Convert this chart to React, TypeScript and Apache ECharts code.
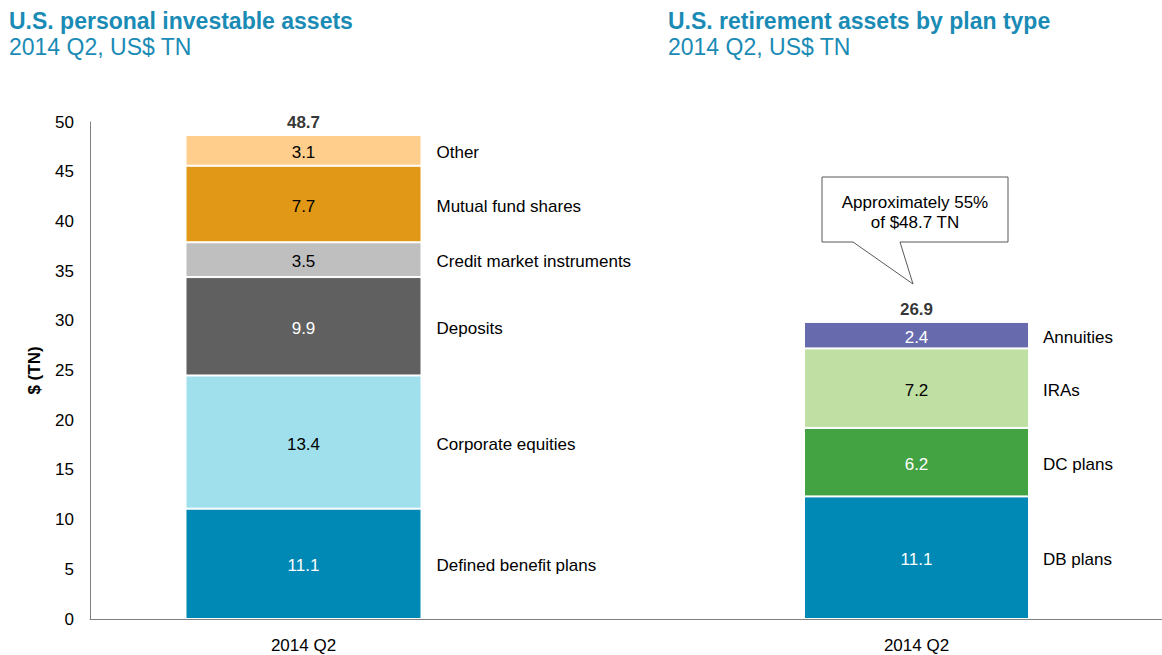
import React, { useEffect, useRef } from "react";
import * as echarts from "echarts";

const categoryLabels = ["2014 Q2"];

const leftNames = [
  "Defined benefit plans",
  "Corporate equities",
  "Deposits",
  "Credit market instruments",
  "Mutual fund shares",
  "Other",
];
const leftValues = [11.1, 13.4, 9.9, 3.5, 7.7, 3.1];
const leftColors = ["#0089B4", "#9FE0EC", "#606060", "#BFBFBF", "#E19816", "#FFCD8C"];
const leftValueColors = ["#ffffff", "#000000", "#ffffff", "#000000", "#000000", "#000000"];

const rightNames = ["DB plans", "DC plans", "IRAs", "Annuities"];
const rightValues = [11.1, 6.2, 7.2, 2.4];
const rightColors = ["#0089B4", "#43A342", "#BFDFA3", "#676AAD"];
const rightValueColors = ["#ffffff", "#ffffff", "#000000", "#ffffff"];

const leftTicks = { min: 0, max: 50, interval: 5 };
const rightScaleMax = 45;

const FONT = "'Liberation Sans', Arial, sans-serif";
const TITLE_COLOR = "#1A8BB5";

function buildStack(
  names: string[],
  values: number[],
  colors: string[],
  valueColors: string[],
  axisIndex: number,
  barWidth: number,
  nameDistance: number
) {
  const out: any[] = [];
  names.forEach((n, i) => {
    out.push({
      type: "bar",
      name: n,
      xAxisIndex: axisIndex,
      yAxisIndex: axisIndex,
      stack: "s" + axisIndex,
      barWidth,
      barGap: "-100%",
      data: [values[i]],
      itemStyle: { color: colors[i], borderColor: "#ffffff", borderWidth: 1 },
      label: {
        show: true,
        position: "right",
        distance: nameDistance,
        offset: [0, 2],
        formatter: n,
        color: "#000",
        fontSize: 17,
        fontFamily: FONT,
      },
    });
  });
  names.forEach((n, i) => {
    out.push({
      type: "bar",
      name: n + " value",
      xAxisIndex: axisIndex,
      yAxisIndex: axisIndex,
      stack: "v" + axisIndex,
      barWidth,
      barGap: "-100%",
      silent: true,
      data: [values[i]],
      itemStyle: { color: "rgba(0,0,0,0)", borderWidth: 0 },
      label: {
        show: true,
        position: "inside",
        offset: [0, 2],
        formatter: values[i].toFixed(1),
        color: valueColors[i],
        fontSize: 17,
        fontFamily: FONT,
      },
    });
  });
  const total = values.reduce((a, b) => a + b, 0);
  out.push({
    type: "scatter",
    xAxisIndex: axisIndex,
    yAxisIndex: axisIndex,
    symbolSize: 1,
    silent: true,
    data: [[0, total]],
    itemStyle: { color: "rgba(0,0,0,0)" },
    label: {
      show: true,
      position: "top",
      distance: 3,
      formatter: total.toFixed(1),
      color: "#000",
      fontWeight: "bold",
      fontSize: 17,
      fontFamily: FONT,
    },
  });
  return out;
}

export default function App() {
  const ref = useRef<HTMLDivElement>(null);
  useEffect(() => {
    if (!ref.current) return;
    const chart = echarts.init(ref.current, undefined, { renderer: "svg" });
    const xAxisBase = {
      type: "category",
      data: categoryLabels,
      axisLine: { show: true, lineStyle: { color: "#808080", width: 1 } },
      axisTick: { show: false },
      axisLabel: { fontSize: 17, color: "#000", margin: 18, fontFamily: FONT },
    };
    const titleBase = {
      top: 9,
      padding: 0,
      itemGap: 3,
      textStyle: { fontSize: 23, fontWeight: "bold", color: TITLE_COLOR, fontFamily: FONT },
      subtextStyle: { fontSize: 23, color: TITLE_COLOR, fontFamily: FONT },
    };
    const option: any = {
      animation: false,
      backgroundColor: "#ffffff",
      textStyle: { fontFamily: FONT },
      title: [
        { ...titleBase, text: "U.S. personal investable assets", subtext: "2014 Q2, US$ TN", left: 9 },
        { ...titleBase, text: "U.S. retirement assets by plan type", subtext: "2014 Q2, US$ TN", left: 668 },
      ],
      grid: [
        { left: 90, top: 122, width: 427, bottom: 36 },
        { left: 671, top: 122, width: 491, bottom: 36 },
      ],
      xAxis: [
        { ...xAxisBase, gridIndex: 0 },
        { ...xAxisBase, gridIndex: 1 },
      ],
      yAxis: [
        {
          type: "value",
          gridIndex: 0,
          min: leftTicks.min,
          max: leftTicks.max,
          interval: leftTicks.interval,
          name: "$ (TN)",
          nameLocation: "middle",
          nameGap: 47,
          nameTextStyle: { fontSize: 17, fontWeight: "bold", color: "#000", fontFamily: FONT },
          axisLine: { show: true, lineStyle: { color: "#808080", width: 1 } },
          axisTick: { show: false },
          splitLine: { show: false },
          axisLabel: { fontSize: 17, color: "#000", margin: 16, fontFamily: FONT },
        },
        { type: "value", gridIndex: 1, min: 0, max: rightScaleMax, show: false, splitLine: { show: false } },
      ],
      graphic: [
        {
          type: "line",
          shape: { x1: 516, y1: 619.5, x2: 672, y2: 619.5 },
          style: { stroke: "#808080", lineWidth: 1 },
          silent: true,
        },
        {
          type: "polygon",
          shape: {
            points: [
              [822, 177],
              [1008, 177],
              [1008, 242],
              [900, 242],
              [913, 284],
              [853, 242],
              [822, 242],
            ],
          },
          style: { fill: "#ffffff", stroke: "#595959", lineWidth: 1 },
        },
        {
          type: "text",
          x: 915,
          y: 212,
          style: {
            text: "Approximately 55%\nof $48.7 TN",
            align: "center",
            verticalAlign: "middle",
            fontSize: 17,
            lineHeight: 20,
            fontFamily: FONT,
            fill: "#000",
          },
        },
      ],
      series: [
        ...buildStack(leftNames, leftValues, leftColors, leftValueColors, 0, 236, 15),
        ...buildStack(rightNames, rightValues, rightColors, rightValueColors, 1, 225, 14),
      ],
    };
    chart.setOption(option);
    return () => chart.dispose();
  }, []);
  return (
    <div
      ref={ref}
      style={{ position: "absolute", left: 0, top: 0, width: 1162, height: 655 }}
    />
  );
}
